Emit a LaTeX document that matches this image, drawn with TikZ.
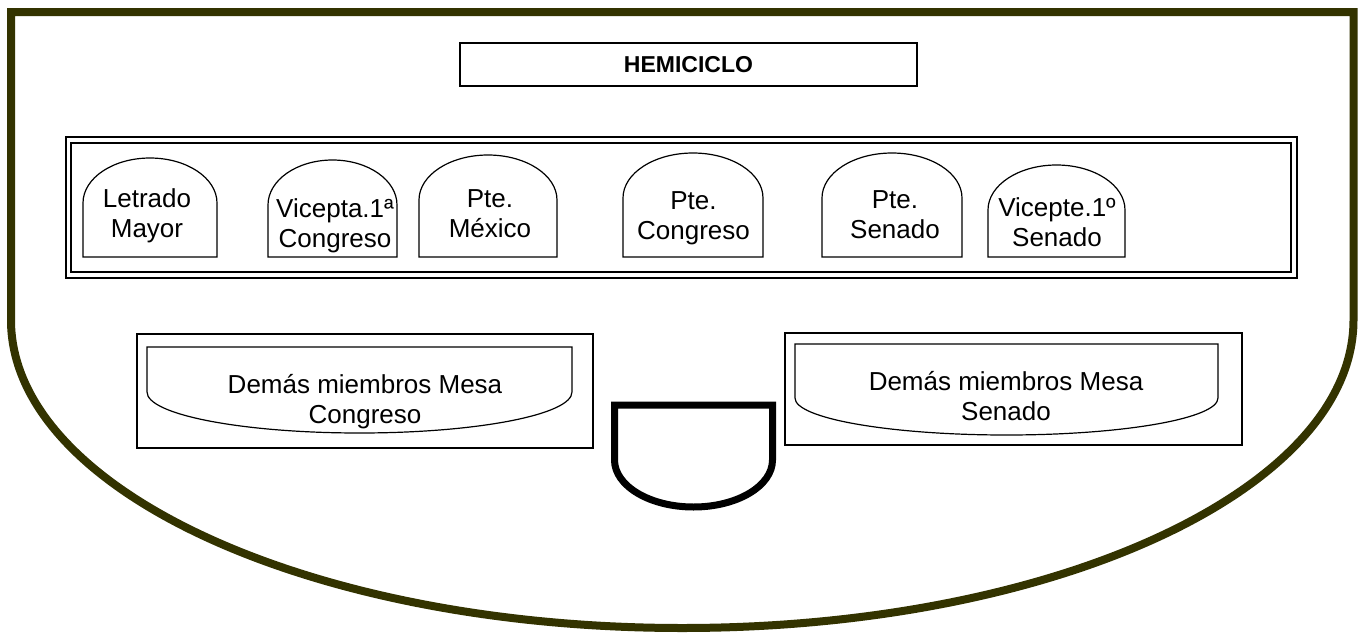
\documentclass[tikz,border=0pt]{standalone}
\usepackage{fontspec}
\setmainfont{Liberation Sans}
\usepackage{tikz}
\definecolor{oliva}{RGB}{51,51,0}
\begin{document}
\begin{tikzpicture}[x=1pt,y=-1pt,
		borde/.style={draw=oliva,line width=8pt},
		doble/.style={draw=black,line width=1.8pt,double=white,double distance=3.5pt},
		asiento/.style={draw=black,line width=1.2pt},
		caja/.style={draw=black,line width=1.5pt},
		texto/.style={align=center,font=\fontsize{26}{30}\selectfont}]
		\tikzstyle{every node}+=[inner sep=0pt]
		\useasboundingbox (0,0) rectangle (1363,632);
		\draw [borde] (11,320) -- (11,12) -- (1353.5,12) -- (1353.5,320) arc[start angle=0,end angle=-180,x radius=671.25pt,y radius=308pt] -- cycle;
		\draw [caja] (460,43) rectangle (917,86);
		\node [font=\fontsize{23}{26}\selectfont\bfseries] (hemiciclo) at (688.5,65) {HEMICICLO};
		\draw [doble] (68.5,140) rectangle (1294,275);
		\draw [asiento] (83,257) -- (83,203) arc[start angle=180,end angle=0,x radius=67pt,y radius=45pt] -- (217,257) -- cycle;
		\node [texto] (letrado) at (147,216) {Letrado\\Mayor};
		\draw [asiento] (268,257) -- (268,205) arc[start angle=180,end angle=0,x radius=64.5pt,y radius=45pt] -- (397,257) -- cycle;
		\node [texto] (vicepta) at (335,226) {Vicepta.1ª\\Congreso};
		\draw [asiento] (419,257) -- (419,200) arc[start angle=180,end angle=0,x radius=69pt,y radius=45pt] -- (557,257) -- cycle;
		\node [texto] (ptemexico) at (490,214) {Pte.\\México};
		\draw [asiento] (623,257) -- (623,198) arc[start angle=180,end angle=0,x radius=70pt,y radius=45pt] -- (763,257) -- cycle;
		\node [texto] (ptecongreso) at (693.5,218) {Pte.\\Congreso};
		\draw [asiento] (822,257) -- (822,198) arc[start angle=180,end angle=0,x radius=70pt,y radius=45pt] -- (962,257) -- cycle;
		\node [texto] (ptesenado) at (895,215) {Pte.\\Senado};
		\draw [asiento] (988,257) -- (988,210) arc[start angle=180,end angle=0,x radius=68.5pt,y radius=45pt] -- (1125,257) -- cycle;
		\node [texto] (vicepte) at (1057,222) {Vicepte.1º\\Senado};
		\draw [caja] (137,334) rectangle (593,448);
		\draw [asiento] (147,347) -- (572,347) -- (572,392) arc[start angle=0,end angle=-180,x radius=212.5pt,y radius=41pt] -- cycle;
		\node [texto] (mesacongreso) at (365,402) {Demás miembros Mesa\\Congreso};
		\draw [caja] (785,333) rectangle (1242,445);
		\draw [asiento] (795,344) -- (1218,344) -- (1218,398) arc[start angle=0,end angle=-180,x radius=211.5pt,y radius=37pt] -- cycle;
		\node [texto] (mesasenado) at (1006,396) {Demás miembros Mesa\\Senado};
		\draw [black,line width=7pt] (614.5,405) -- (772.5,405) -- (772.5,460) arc[start angle=0,end angle=-180,x radius=79pt,y radius=47pt] -- cycle;
\end{tikzpicture}
\end{document}
